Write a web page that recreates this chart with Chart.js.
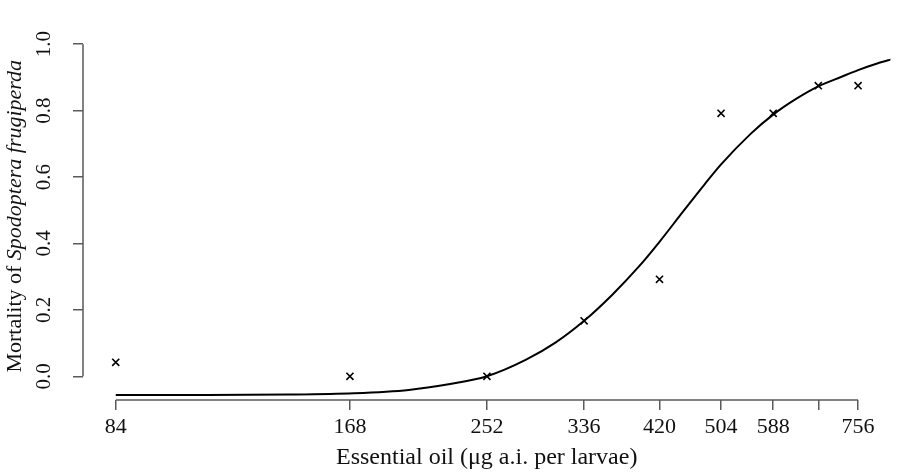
<!DOCTYPE html>
<html>
<head>
<meta charset="utf-8">
<script src="https://cdn.jsdelivr.net/npm/chart.js@4.4.1/dist/chart.umd.min.js"></script>
<style>
  html, body { margin: 0; padding: 0; background: #fff; }
  #wrap { width: 897px; height: 475px; }
</style>
</head>
<body>
<div id="wrap"><canvas id="mortalityChart" width="897" height="475"></canvas></div>
<script>
// observed mortality at each dose
const doses = [84, 168, 252, 336, 420, 504, 588, 672, 756];
const mortality = [0.042, 0.0, 0.0, 0.167, 0.292, 0.792, 0.792, 0.875, 0.875];

// fitted curve
const curveDoses = [84, 110, 140, 170, 200, 225, 252, 283, 309, 336, 365, 395, 420, 450, 480, 504, 550, 588, 630, 672, 720, 756, 800, 840];
const curveMortality = [-0.056, -0.056, -0.055, -0.051, -0.041, -0.024, 0.0, 0.05, 0.102, 0.167, 0.245, 0.33, 0.405, 0.495, 0.578, 0.638, 0.73, 0.788, 0.836, 0.873, 0.902, 0.922, 0.942, 0.956];

// axis ticks
const xTicks = [84, 168, 252, 336, 420, 504, 588, 672, 756];
const xTickLabels = ["84", "168", "252", "336", "420", "504", "588", "", "756"];
const yTicks = [0, 0.2, 0.4, 0.6, 0.8, 1.0];

const serif = "'Liberation Serif', 'Times New Roman', serif";
const axisColor = "#5a5a5a";

// R-style axis lines that only run between the first and last tick
const rAxes = {
    id: "rAxes",
    afterDraw(chart) {
        const { ctx, chartArea, scales } = chart;
        const x = scales.x, y = scales.y;
        ctx.save();
        ctx.strokeStyle = axisColor;
        ctx.lineWidth = 1.5;
        ctx.beginPath();
        ctx.moveTo(x.getPixelForValue(xTicks[0]), chartArea.bottom);
        ctx.lineTo(x.getPixelForValue(xTicks[xTicks.length - 1]), chartArea.bottom);
        ctx.moveTo(chartArea.left, y.getPixelForValue(yTicks[0]));
        ctx.lineTo(chartArea.left, y.getPixelForValue(yTicks[yTicks.length - 1]));
        ctx.stroke();

        // y title with italic species name
        const plain = "Mortality of ";
        const italic = "Spodoptera frugiperda";
        const midY = (y.getPixelForValue(0) + y.getPixelForValue(1)) / 2 + 6;
        ctx.fillStyle = "#111";
        ctx.textBaseline = "alphabetic";
        ctx.font = "22px " + serif;
        const w1 = ctx.measureText(plain).width;
        ctx.font = "italic 22px " + serif;
        const w2 = ctx.measureText(italic).width;
        ctx.translate(21, midY);
        ctx.rotate(-Math.PI / 2);
        ctx.textAlign = "left";
        ctx.font = "22px " + serif;
        ctx.fillText(plain, -(w1 + w2) / 2, 0);
        ctx.font = "italic 22px " + serif;
        ctx.fillText(italic, -(w1 + w2) / 2 + w1, 0);
        ctx.restore();
    }
};

new Chart(document.getElementById("mortalityChart"), {
    type: "scatter",
    data: {
        datasets: [{
            type: "line",
            label: "Fitted",
            data: curveDoses.map((d, i) => ({ x: d, y: curveMortality[i] })),
            borderColor: "#000",
            borderWidth: 2,
            pointRadius: 0,
            cubicInterpolationMode: "monotone",
            fill: false
        }, {
            label: "Observed",
            data: doses.map((d, i) => ({ x: d, y: mortality[i] })),
            pointStyle: "crossRot",
            pointRadius: 5,
            borderColor: "#000",
            borderWidth: 1.6
        }]
    },
    options: {
        responsive: false,
        animation: false,
        layout: { padding: { top: 7.5, right: 0, left: 0, bottom: 0 } },
        plugins: {
            legend: { display: false },
            tooltip: { enabled: false }
        },
        scales: {
            x: {
                type: "logarithmic",
                min: 76.24,
                max: 831.9,
                afterBuildTicks: (s) => { s.ticks = xTicks.map(v => ({ value: v })); },
                afterFit: (s) => { s.height = 75; },
                border: { display: false },
                grid: { drawOnChartArea: false, drawTicks: true, tickLength: 10, color: axisColor, lineWidth: 1.5 },
                ticks: {
                    autoSkip: false,
                    maxRotation: 0,
                    padding: 4,
                    color: "#111",
                    font: { family: serif, size: 22 },
                    callback: (v) => xTickLabels[xTicks.indexOf(v)] ?? ""
                },
                title: {
                    display: true,
                    text: "Essential oil (μg a.i. per larvae)",
                    color: "#111",
                    font: { family: serif, size: 24 },
                    padding: { top: 0, bottom: 3 }
                }
            },
            y: {
                min: -0.0714,
                max: 1.05,
                afterBuildTicks: (s) => { s.ticks = yTicks.map(v => ({ value: v })); },
                afterFit: (s) => { s.width = 83; },
                border: { display: false },
                grid: { drawOnChartArea: false, drawTicks: true, tickLength: 10, color: axisColor, lineWidth: 1.5 },
                ticks: {
                    minRotation: 90,
                    maxRotation: 90,
                    crossAlign: "center",
                    padding: 15,
                    color: "#111",
                    font: { family: serif, size: 21 },
                    callback: (v) => Number(v).toFixed(1)
                }
            }
        }
    },
    plugins: [rAxes]
});
</script>
</body>
</html>
